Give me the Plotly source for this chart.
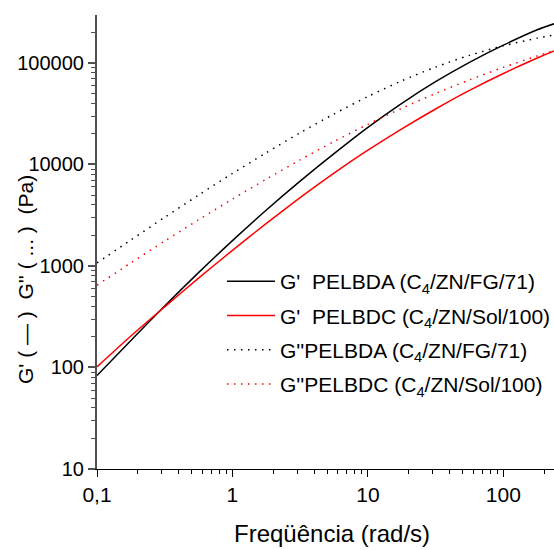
import plotly.graph_objects as go

freq = [0.1, 0.178, 0.316, 0.562, 1.0, 1.78, 3.16, 5.62, 10.0, 17.8, 31.6, 56.2, 100.0, 178.0, 237.0]

g1_A = [83.2, 184.5, 402.7, 859, 1778, 3556, 6839, 12760, 23170, 39990, 65310, 101200, 149600, 212300, 242700]
g1_C = [101.4, 204.2, 395.4, 758.6, 1426, 2624, 4721, 8222, 13800, 22390, 35160, 53580, 78700, 111900, 131500]
g2_A = [1072, 1803, 3013, 4989, 8147, 13060, 20510, 31410, 46670, 66680, 90990, 118600, 147600, 175400, 188400]
g2_C = [645.7, 1072, 1758, 2851, 4560, 7178, 11090, 16790, 24830, 35730, 50000, 68080, 90360, 117200, 132400]

names = [
    "G'\u00a0\u00a0PELBDA (C<sub>4</sub>/ZN/FG/71)",
    "G'\u00a0\u00a0PELBDC (C<sub>4</sub>/ZN/Sol/100)",
    "G''PELBDA (C<sub>4</sub>/ZN/FG/71)",
    "G''PELBDC (C<sub>4</sub>/ZN/Sol/100)",
]

x_tickvals = [0.1, 1, 10, 100]
x_ticktext = ["0,1", "1", "10", "100"]
y_tickvals = [10, 100, 1000, 10000, 100000]
y_ticktext = ["10", "100", "1000", "10000", "100000"]

FONT = "Liberation Sans, Arial, sans-serif"

fig = go.Figure()
series = [
    (g1_A, "black", "solid"),
    (g1_C, "#ff0000", "solid"),
    (g2_A, "black", "1.5px,5.5px"),
    (g2_C, "#ff0000", "1.5px,5.5px"),
]
for i, ((vals, col, dash), nm) in enumerate(zip(series, names)):
    fig.add_trace(go.Scatter(
        x=freq, y=vals, mode="lines", name=nm, legendgroup=f"g{i}",
        line=dict(color=col, width=1.5, dash=dash, shape="spline", smoothing=0.8),
    ))

fig.update_layout(
    width=554, height=550,
    margin=dict(l=97, r=0, t=15, b=81, autoexpand=False),
    paper_bgcolor="white", plot_bgcolor="white",
    font=dict(family=FONT, size=20, color="black"),
    showlegend=True,
    legend=dict(
        xref="container", yref="container",
        x=222 / 554, y=1 - 261 / 550, xanchor="left", yanchor="top",
        bgcolor="rgba(0,0,0,0)", borderwidth=0,
        font=dict(family=FONT, size=21, color="black"),
        itemwidth=48, tracegroupgap=4,
    ),
    xaxis=dict(
        type="log", range=[-1, 2.374],
        tickvals=x_tickvals, ticktext=x_ticktext,
        showgrid=False, zeroline=False,
        showline=True, linecolor="black", linewidth=1.2,
        ticks="outside", ticklen=7, tickwidth=1.2, tickcolor="black",
        minor=dict(ticks="outside", ticklen=4, tickwidth=1, tickcolor="black", dtick="D1", showgrid=False),
        tickfont=dict(family=FONT, size=21),
    ),
    yaxis=dict(
        type="log", range=[1, 5.472],
        tickvals=y_tickvals, ticktext=y_ticktext,
        showgrid=False, zeroline=False,
        showline=True, linecolor="#505050", linewidth=2,
        ticks="outside", ticklen=7, tickwidth=1.5, tickcolor="#505050",
        minor=dict(ticks="outside", ticklen=4, tickwidth=1, tickcolor="#505050", dtick="D1", showgrid=False),
        tickfont=dict(family=FONT, size=20),
    ),
    annotations=[
        dict(text="Freqüência (rad/s)", x=332, y=533, xref="paper", yref="paper",
             showarrow=False, font=dict(family=FONT, size=24)),
        dict(text="G'\u00a0(\u00a0\u2014\u00a0)\u00a0\u00a0G''\u00a0(\u00a0...\u00a0)\u00a0\u00a0(Pa)",
             x=25, y=280, xref="paper", yref="paper", textangle=-90,
             showarrow=False, font=dict(family=FONT, size=21)),
    ],
)

# convert pixel positions of annotations to paper coords
pw, ph = 554 - 97 - 0, 550 - 15 - 81
for a in fig.layout.annotations:
    px, py = a.x, a.y
    a.x = (px - 97) / pw
    a.y = (550 - 81 - py) / ph
    a.xanchor = "center"
    a.yanchor = "middle"

fig.write_html("out.html")
